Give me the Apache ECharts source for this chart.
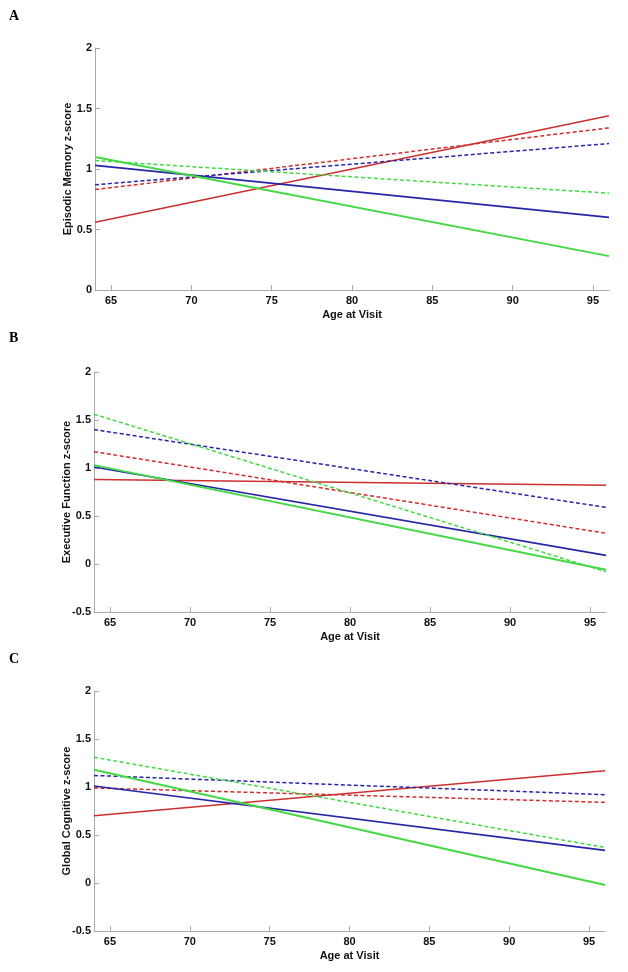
<!DOCTYPE html>
<html>
<head>
<meta charset="utf-8">
<script src="https://cdn.jsdelivr.net/npm/echarts@6/dist/echarts.min.js"></script>
<style>
  html, body { margin: 0; padding: 0; background: #fff; }
  #main { width: 628px; height: 972px; }
</style>
</head>
<body>
<div id="main"></div>
<script>
// ages at the two ends of each fitted line
var ages = [64, 96];
var xTicks = [65, 70, 75, 80, 85, 90, 95];

// A: episodic memory
var emRedSolid = [0.56, 1.44];
var emRedDash = [0.83, 1.34];
var emBlueSolid = [1.03, 0.60];
var emBlueDash = [0.87, 1.21];
var emGreenSolid = [1.10, 0.28];
var emGreenDash = [1.07, 0.80];

// B: executive function
var efRedSolid = [0.88, 0.82];
var efRedDash = [1.17, 0.32];
var efBlueSolid = [1.01, 0.09];
var efBlueDash = [1.40, 0.59];
var efGreenSolid = [1.03, -0.06];
var efGreenDash = [1.56, -0.08];

// C: global cognitive
var gcRedSolid = [0.70, 1.17];
var gcRedDash = [0.99, 0.84];
var gcBlueSolid = [1.01, 0.34];
var gcBlueDash = [1.12, 0.92];
var gcGreenSolid = [1.18, -0.02];
var gcGreenDash = [1.31, 0.37];

var panelNames = ['Episodic Memory z-score', 'Executive Function z-score', 'Global Cognitive z-score'];
var panelLetters = ['A', 'B', 'C'];
var yMins = [0, -0.5, -0.5];

var red = '#cc2f2f';
var blue = '#2626a6';
var green = '#45d845';
var axisGrey = '#a8a8a8';
var font = '"Liberation Sans", Arial, sans-serif';

var panels = [
    [emRedSolid, emRedDash, emBlueSolid, emBlueDash, emGreenSolid, emGreenDash],
    [efRedSolid, efRedDash, efBlueSolid, efBlueDash, efGreenSolid, efGreenDash],
    [gcRedSolid, gcRedDash, gcBlueSolid, gcBlueDash, gcGreenSolid, gcGreenDash]
];
var styles = [
    { color: red, type: 'solid', width: 1.6 },
    { color: red, type: [4, 2.5], width: 1.5 },
    { color: blue, type: 'solid', width: 1.6 },
    { color: blue, type: [4, 2.5], width: 1.5 },
    { color: green, type: 'solid', width: 2 },
    { color: green, type: [4, 2.5], width: 1.5 }
];

var grids = [
    { left: 95, top: 48, width: 514, height: 242 },
    { left: 94, top: 372, width: 512, height: 240 },
    { left: 94, top: 691, width: 511, height: 240 }
];

function toPoints(vals) {
    var pts = [];
    for (var i = 0; i < ages.length; i++) {
        pts.push([ages[i], vals[i]]);
    }
    return pts;
}

var xAxes = [], yAxes = [], series = [], graphics = [];
for (var p = 0; p < 3; p++) {
    xAxes.push({
        type: 'value', gridIndex: p, min: 64, max: 96,
        name: 'Age at Visit', nameLocation: 'middle', nameGap: 19,
        nameMoveOverlap: false,
        nameTextStyle: { fontFamily: font, fontWeight: 'bold', fontSize: 11, color: '#111' },
        axisLine: { show: true, onZero: false, lineStyle: { color: axisGrey, width: 1 } },
        axisTick: { show: true, inside: true, length: 5, customValues: xTicks, lineStyle: { color: axisGrey } },
        axisLabel: { customValues: xTicks, margin: 5, fontFamily: font, fontWeight: 'bold', fontSize: 11, color: '#111' },
        splitLine: { show: false }
    });
    yAxes.push({
        type: 'value', gridIndex: p, min: yMins[p], max: 2, interval: 0.5,
        name: panelNames[p], nameLocation: 'middle', nameRotate: 90, nameGap: 22,
        nameMoveOverlap: false,
        nameTextStyle: { fontFamily: font, fontWeight: 'bold', fontSize: 11, color: '#111' },
        axisLine: { show: true, onZero: false, lineStyle: { color: axisGrey, width: 1 } },
        axisTick: { show: true, inside: true, length: 5, lineStyle: { color: axisGrey } },
        axisLabel: { margin: 3, fontFamily: font, fontWeight: 'bold', fontSize: 11, color: '#111' },
        splitLine: { show: false }
    });
    for (var s = 0; s < 6; s++) {
        series.push({
            type: 'line', xAxisIndex: p, yAxisIndex: p,
            data: toPoints(panels[p][s]),
            showSymbol: false, silent: true,
            lineStyle: styles[s]
        });
    }
    graphics.push({
        type: 'text', left: 9, top: [9, 331, 652][p],
        style: { text: panelLetters[p], font: 'bold 14px "Liberation Serif", "Times New Roman", serif', fill: '#000' }
    });
}

var myChart = echarts.init(document.getElementById('main'), null, { renderer: 'canvas' });
myChart.setOption({
    backgroundColor: '#fff',
    animation: false,
    grid: grids,
    xAxis: xAxes,
    yAxis: yAxes,
    series: series,
    graphic: graphics
});
</script>
</body>
</html>
